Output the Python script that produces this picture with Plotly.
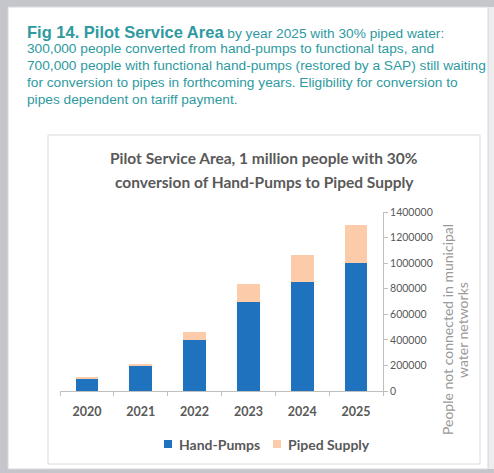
import plotly.graph_objects as go

# Data: people served per year in the pilot service area
years = ["2020", "2021", "2022", "2023", "2024", "2025"]
hand_pumps = [100000, 200000, 400000, 700000, 850000, 1000000]
piped_supply = [5000, 15000, 60000, 135000, 210000, 300000]
y_ticks = [0, 200000, 400000, 600000, 800000, 1000000, 1200000, 1400000]
series_names = ["Hand-Pumps", "Piped Supply"]
series_colors = ["#1f72bd", "#fbcbaa"]

W, H = 494, 473
L, R, T, B = 60, 111, 212, 82
PW, PH = W - L - R, H - T - B


def px(x):
    return (x - L) / PW


def py(y):
    return 1 - (y - T) / PH


TEAL = "#2e9aa0"
GREY_TXT = "#595959"

fig = go.Figure()
for name, vals, col in zip(series_names, [hand_pumps, piped_supply], series_colors):
    fig.add_trace(go.Bar(name=name, x=years, y=vals,
                         marker=dict(color=col, line=dict(width=0))))

shapes = [
    # white page panel
    dict(type="rect", xref="paper", yref="paper", x0=px(8), x1=px(488),
         y0=py(469), y1=py(7), fillcolor="white",
         line=dict(color="#d8d8dc", width=1), layer="below"),
    # light strip at right edge
    dict(type="rect", xref="paper", yref="paper", x0=px(488.5), x1=px(494),
         y0=py(469), y1=py(7), fillcolor="#ededf0", line=dict(width=0),
         layer="below"),
    # chart frame
    dict(type="rect", xref="paper", yref="paper", x0=px(48), x1=px(480),
         y0=py(464), y1=py(135), fillcolor="rgba(0,0,0,0)",
         line=dict(color="#dadada", width=1), layer="below"),
]

heading = [
    ("<b><span style='font-size:16.5px'>Fig 14. Pilot Service Area</span></b>"
     " by year 2025 with 30% piped water:", 32),
    ("300,000 people converted from hand-pumps to functional taps, and", 49),
    ("700,000 people with functional hand-pumps (restored by a SAP) still waiting", 66),
    ("for conversion to pipes in forthcoming years. Eligibility for conversion to", 82),
    ("pipes dependent on tariff payment.", 99),
]

annotations = []
for text, yc in heading:
    annotations.append(dict(
        text=text, xref="paper", yref="paper", x=px(25), y=py(yc),
        xanchor="left", yanchor="middle", showarrow=False,
        font=dict(family="Liberation Sans", size=13.7, color=TEAL)))

annotations += [
    dict(text="<b>Pilot Service Area, 1 million people with 30%</b>",
         xref="paper", yref="paper", x=px(264), y=py(158),
         xanchor="center", yanchor="middle", showarrow=False,
         font=dict(family="Lato", size=15.5, color=GREY_TXT)),
    dict(text="<b>conversion of Hand-Pumps to Piped Supply</b>",
         xref="paper", yref="paper", x=px(264), y=py(182),
         xanchor="center", yanchor="middle", showarrow=False,
         font=dict(family="Lato", size=15.5, color=GREY_TXT)),
    dict(text="People not connected in municipal",
         xref="paper", yref="paper", x=px(447), y=py(330),
         xanchor="center", yanchor="middle", showarrow=False, textangle=-90,
         font=dict(family="Lato", size=14, color="#999999")),
    dict(text="water networks",
         xref="paper", yref="paper", x=px(462), y=py(330),
         xanchor="center", yanchor="middle", showarrow=False, textangle=-90,
         font=dict(family="Lato", size=14, color="#999999")),
]

# Legend: small colour swatches followed by the series names
legend_items = [(168, 177), (277, 286)]
for (sx, tx), name, col in zip(legend_items, series_names, series_colors):
    shapes.append(dict(type="rect", xref="paper", yref="paper",
                       x0=px(sx - 4), x1=px(sx + 4), y0=py(448), y1=py(440),
                       fillcolor=col, line=dict(width=0)))
    annotations.append(dict(text="<b>" + name + "</b>", xref="paper", yref="paper",
                            x=px(tx), y=py(444), xanchor="left", yanchor="middle",
                            showarrow=False,
                            font=dict(family="Lato", size=14, color=GREY_TXT)))

fig.update_layout(
    width=W, height=H,
    margin=dict(l=L, r=R, t=T, b=B, pad=0),
    paper_bgcolor="#c5c5cc",
    plot_bgcolor="white",
    barmode="stack",
    bargap=0.58,
    showlegend=False,
    shapes=shapes,
    annotations=annotations,
    xaxis=dict(type="category", showgrid=False, showline=True,
               linecolor="#bfbfbf", linewidth=1, ticks="outside",
               tickson="boundaries", ticklen=4, tickcolor="#bfbfbf",
               tickfont=dict(family="Lato", size=12.5, color=GREY_TXT,
                             weight="bold"),
               ticklabelstandoff=9, zeroline=False),
    yaxis=dict(side="right", range=[0, 1400000], tickvals=y_ticks,
               ticktext=[str(v) for v in y_ticks], showgrid=False,
               showline=True, linecolor="#bfbfbf", linewidth=1,
               ticks="outside", ticklen=4, tickcolor="#bfbfbf",
               tickfont=dict(family="Lato", size=10.5, color=GREY_TXT),
               zeroline=False),
)

fig.write_html("out.html")
